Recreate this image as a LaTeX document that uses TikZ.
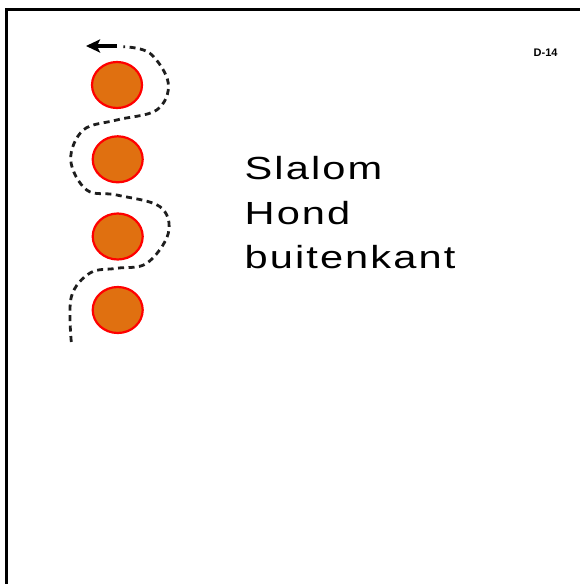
\documentclass[tikz,border=0pt]{standalone}
\usepackage{fontspec}
\setmainfont{Liberation Sans}
\newfontfamily\trackfont[LetterSpace=5]{Liberation Sans}
\usetikzlibrary{shapes.geometric,arrows.meta}
\definecolor{ballfill}{RGB}{224,112,16}
\definecolor{ballrim}{RGB}{255,0,0}
\definecolor{pathcol}{RGB}{30,30,30}
\newcommand{\widetext}[1]{\scalebox{1.3}[1]{#1}}
\tikzset{
  ball/.style={ellipse,draw=ballrim,fill=ballfill,line width=2.2pt,minimum width=50pt,minimum height=46pt,inner sep=0pt},
  route/.style={draw=pathcol,line width=2.8pt,dash pattern=on 6pt off 4.5pt},
  bigtext/.style={anchor=base west,inner sep=0pt,font=\trackfont\fontsize{32}{38}\selectfont},
  tag/.style={anchor=base west,inner sep=0pt,font=\bfseries\fontsize{11}{13}\selectfont},
  frame/.style={line width=2.8pt,draw=black}
}
\begin{document}
\begin{tikzpicture}[x=1pt,y=-1pt]
\useasboundingbox (0,0) rectangle (580,584);
% frame (top and left)
\coordinate (fa) at (6.5,584);
\coordinate (fb) at (6.5,9.7);
\coordinate (fc) at (580,9.7);
\draw[frame] (fa) -- (fb) -- (fc);
% balls
\node[ball] (b1) at (117,85) {};
\node[ball] (b2) at (117.7,159.3) {};
\node[ball] (b3) at (117.7,236.5) {};
\node[ball] (b4) at (117.7,310) {};
% dashed slalom route
\draw[route] plot[smooth,tension=0.6] coordinates {
 (71.3,342) (71.3,297) (90,273) (116.7,268.3) (146.7,263.3) (168.3,233.3)
 (160,206.7) (116.7,195) (86.7,190) (70.7,160) (83.3,130) (116.7,120)
 (156.7,110) (168.3,83.3) (150,53.3) (123.3,46.7)};
% arrow
\coordinate (as) at (117,46);
\coordinate (ae) at (86,46);
\draw[line width=3.2pt,-{Stealth[length=14pt,width=13pt,inset=3pt]}] (as) -- (ae);
% labels
\node[bigtext] (t1) at (244.5,179.5) {\widetext{Slalom}};
\node[bigtext] (t2) at (244.5,224) {\widetext{Hond}};
\node[bigtext] (t3) at (244.5,268.5) {\widetext{buitenkant}};
\node[tag] (d14) at (533.5,56.7) {D-14};
\end{tikzpicture}
\end{document}
